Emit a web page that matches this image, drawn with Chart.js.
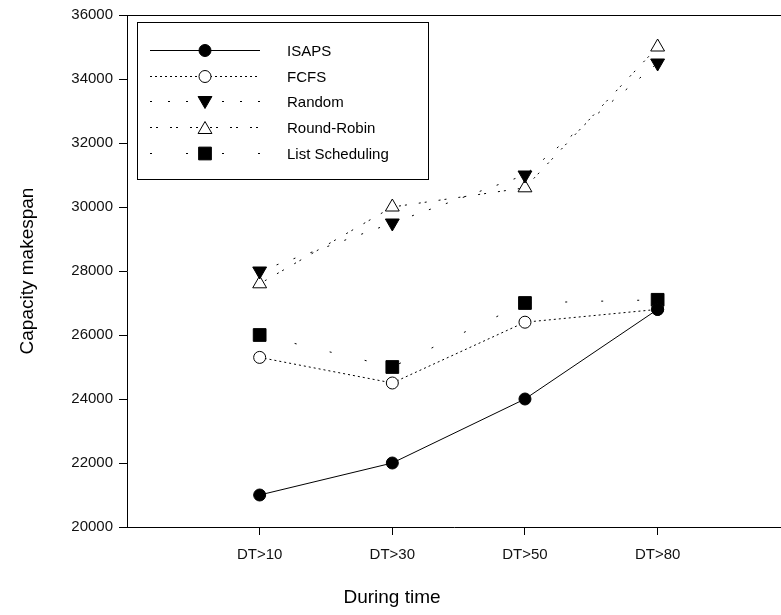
<!DOCTYPE html>
<html>
<head>
<meta charset="utf-8">
<script src="https://cdn.jsdelivr.net/npm/chart.js@4/dist/chart.umd.min.js"></script>
<style>
  html, body { margin: 0; padding: 0; background: #fff; overflow: hidden; }
</style>
</head>
<body>
<canvas id="makespanChart" width="781" height="615"></canvas>
<script>
const categories = ['DT>10', 'DT>30', 'DT>50', 'DT>80'];
const isaps = [21000, 22000, 24000, 26800];
const fcfs = [25300, 24500, 26400, 26800];
const randomSched = [28000, 29500, 31000, 34500];
const roundRobin = [27600, 30000, 30600, 35000];
const listSched = [26000, 25000, 27000, 27100];
const yTicks = [20000, 22000, 24000, 26000, 28000, 30000, 32000, 34000, 36000];

const FONT = 'Liberation Sans, Arial, sans-serif';

function toPoints(values) {
  return values.map((v, i) => ({ x: i + 1, y: v }));
}

const series = [
  { label: 'ISAPS', data: isaps, dash: [], style: 'circle', fill: '#000', radius: 6, rot: 0 },
  { label: 'FCFS', data: fcfs, dash: [2, 3], style: 'circle', fill: '#fff', radius: 6, rot: 0 },
  { label: 'Random', data: randomSched, dash: [2, 16], style: 'triangle', fill: '#000', radius: 8, rot: 180 },
  { label: 'Round-Robin', data: roundRobin, dash: [2, 4, 2, 12], style: 'triangle', fill: '#fff', radius: 8, rot: 0 },
  { label: 'List Scheduling', data: listSched, dash: [2, 34], style: 'rect', fill: '#000', radius: 9, rot: 0 }
];

// legend box, axis titles and top frame line
const decorations = {
  id: 'decorations',
  afterDraw(chart) {
    const ctx = chart.ctx;
    const area = chart.chartArea;
    ctx.save();
    ctx.strokeStyle = '#000';
    ctx.lineWidth = 1;
    ctx.beginPath();
    ctx.moveTo(area.left, Math.round(area.top) + 0.5);
    ctx.lineTo(area.right, Math.round(area.top) + 0.5);
    ctx.stroke();

    // legend
    const bx = 137.5, by = 22.5, bw = 291, bh = 157;
    ctx.fillStyle = '#fff';
    ctx.fillRect(bx, by, bw, bh);
    ctx.strokeRect(bx, by, bw, bh);
    ctx.font = '15px ' + FONT;
    ctx.textBaseline = 'middle';
    chart.data.datasets.forEach((ds, i) => {
      const y = Math.round(50 + i * 25.7) + 0.5;
      ctx.strokeStyle = '#000';
      ctx.lineWidth = 1;
      ctx.setLineDash(ds.borderDash || []);
      ctx.beginPath();
      ctx.moveTo(150, y);
      ctx.lineTo(260, y);
      ctx.stroke();
      ctx.setLineDash([]);
      ctx.fillStyle = ds.pointBackgroundColor;
      ctx.strokeStyle = '#000';
      let py = y;
      if (ds.pointStyle === 'triangle') py += ds.pointRotation ? -1 : 2;
      Chart.helpers.drawPoint(ctx, {
        pointStyle: ds.pointStyle,
        rotation: ds.pointRotation,
        radius: ds.pointRadius,
        borderWidth: 1
      }, 205, py);
      ctx.fillStyle = '#000';
      ctx.textAlign = 'left';
      ctx.fillText(ds.label, 287, y + 1);
    });

    // axis titles
    ctx.fillStyle = '#000';
    ctx.font = '19px ' + FONT;
    ctx.textAlign = 'center';
    ctx.fillText('During time', 392, 598);
    ctx.translate(28, 271);
    ctx.rotate(-Math.PI / 2);
    ctx.fillText('Capacity makespan', 0, 0);
    ctx.restore();
  }
};

new Chart(document.getElementById('makespanChart'), {
  type: 'line',
  data: {
    datasets: series.map(s => ({
      label: s.label,
      data: toPoints(s.data),
      borderColor: '#000',
      borderWidth: 1,
      borderDash: s.dash,
      pointStyle: s.style,
      pointRadius: s.radius,
      pointRotation: s.rot,
      pointBackgroundColor: s.fill,
      pointBorderColor: '#000',
      pointBorderWidth: 1,
      tension: 0,
      fill: false
    }))
  },
  options: {
    responsive: false,
    animation: false,
    devicePixelRatio: 1,
    layout: { autoPadding: false, padding: { top: 15, right: 0, left: 0, bottom: 0 } },
    plugins: {
      legend: { display: false },
      tooltip: { enabled: false }
    },
    scales: {
      x: {
        type: 'linear',
        min: 0,
        max: 4.93,
        afterFit: scale => { scale.height = 88; },
        afterBuildTicks: scale => {
          scale.ticks = categories.map((c, i) => ({ value: i + 1 }));
        },
        ticks: {
          autoSkip: false,
          maxRotation: 0,
          padding: 11,
          color: '#111',
          font: { family: FONT, size: 15 },
          callback: v => categories[v - 1] || ''
        },
        grid: {
          drawOnChartArea: false,
          drawTicks: true,
          tickLength: 8,
          color: '#000'
        },
        border: { display: true, color: '#000', width: 1 }
      },
      y: {
        min: 20000,
        max: 36000,
        afterFit: scale => { scale.width = 127; },
        afterBuildTicks: scale => {
          scale.ticks = yTicks.map(v => ({ value: v }));
        },
        ticks: {
          padding: 6,
          color: '#111',
          font: { family: FONT, size: 15 },
          callback: v => String(v)
        },
        grid: {
          drawOnChartArea: false,
          drawTicks: true,
          tickLength: 8,
          color: '#000'
        },
        border: { display: true, color: '#000', width: 1 }
      }
    }
  },
  plugins: [decorations]
});
</script>
</body>
</html>
